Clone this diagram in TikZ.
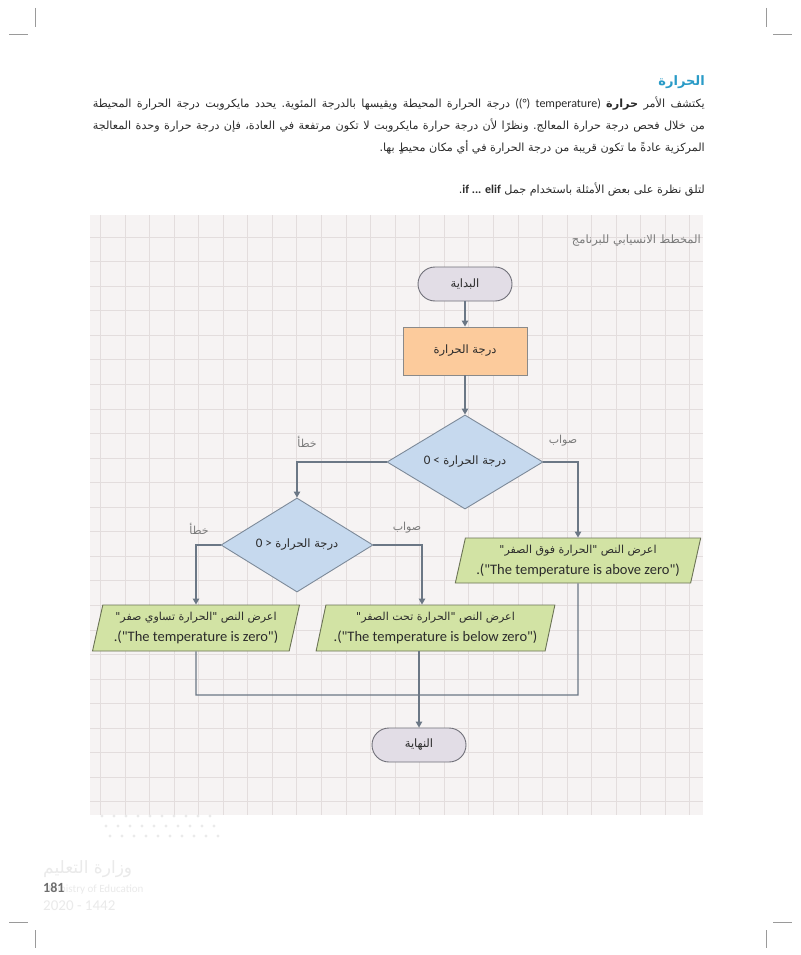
\documentclass[tikz,border=0pt]{standalone}
\usepackage{fontspec}
\setmainfont{Carlito}
\newfontfamily\ar[Script=Arabic]{DejaVu Sans}
\newfontfamily\lat{Carlito}
\TeXXeTstate=1
\usetikzlibrary{shapes.geometric,arrows.meta}
\definecolor{titleblue}{HTML}{2A9BC7}
\definecolor{bodytext}{HTML}{2B2B2B}
\definecolor{panelbg}{HTML}{F6F3F3}
\definecolor{gridline}{HTML}{E3DDDD}
\definecolor{termfill}{HTML}{E2DDE6}
\definecolor{termdraw}{HTML}{6F6F78}
\definecolor{procfill}{HTML}{FCCB9C}
\definecolor{procdraw}{HTML}{8A8A8A}
\definecolor{decfill}{HTML}{C6D9EE}
\definecolor{decdraw}{HTML}{7D8A99}
\definecolor{parafill}{HTML}{D2E3A4}
\definecolor{paradraw}{HTML}{6B7355}
\definecolor{connc}{HTML}{6B7785}
\definecolor{labelgray}{HTML}{7A7A7A}
\definecolor{cropgray}{HTML}{9A9A9A}
\definecolor{wmark}{HTML}{EAEAEA}
\definecolor{pagenum}{HTML}{6E6E6E}
\newcommand\jline[1]{\hbox to 612pt{\frenchspacing\spaceskip=0.25em plus 1fil minus 0.1em\relax\beginR #1\endR}}
\begin{document}
\begin{tikzpicture}[x=1pt,y=-1pt,
  term/.style={draw=termdraw, fill=termfill, line width=0.9pt, rounded corners=17pt,
    minimum width=94pt, minimum height=34pt, inner sep=0pt,
    font=\ar\fontsize{11.5}{13}\selectfont, text=bodytext},
  procbox/.style={draw=procdraw, fill=procfill, line width=0.9pt,
    minimum width=124pt, minimum height=48pt, inner sep=0pt,
    font=\ar\fontsize{11.5}{13}\selectfont, text=bodytext},
  decision/.style={diamond, draw=decdraw, fill=decfill, line width=0.9pt,
    inner sep=0pt, font=\ar\fontsize{11.5}{13}\selectfont, text=bodytext},
  para/.style={trapezium, trapezium left angle=74, trapezium right angle=106,
    trapezium stretches=true, draw=paradraw, fill=parafill, line width=0.9pt,
    inner sep=0pt, align=center, font=\lat\fontsize{14.5}{21}\selectfont, text=bodytext},
  conn/.style={draw=connc, line width=1.1pt},
  arr/.style={conn, -{Triangle[length=6pt,width=6.5pt]}},
  lbl/.style={font=\ar\fontsize{11}{12}\selectfont, text=labelgray, inner sep=0pt},
  crop/.style={draw=cropgray, line width=0.9pt},
  parafont/.style={font=\ar\fontsize{11.2}{13}\selectfont, text=bodytext, inner sep=0pt},
]
\useasboundingbox (0,0) rectangle (800,955);
\fill[white] (0,0) rectangle (800,955);

% crop marks
\draw[crop] (35,8) -- (35,27);
\draw[crop] (9,34) -- (28,34);
\draw[crop] (766,8) -- (766,27);
\draw[crop] (773,34) -- (792,34);
\draw[crop] (9,922) -- (28,922);
\draw[crop] (35,930) -- (35,948);
\draw[crop] (773,922) -- (792,922);
\draw[crop] (766,930) -- (766,948);

% title and paragraph
\node[font=\ar\bfseries\fontsize{13}{14}\selectfont, text=titleblue, anchor=base east, inner sep=0pt]
  (title) at (705,86) {\beginR الحرارة\endR};
\node[parafont, anchor=base east] (l1) at (705,108)
  {\jline{يكتشف الأمر {\bfseries حرارة} \beginL{\lat\fontsize{12}{13}\selectfont ((°) temperature)}\endL{} درجة الحرارة المحيطة ويقيسها بالدرجة المئوية. يحدد مايكروبت درجة الحرارة المحيطة}};
\node[parafont, anchor=base east] (l2) at (705,130)
  {\jline{من خلال فحص درجة حرارة المعالج. ونظرًا لأن درجة حرارة مايكروبت لا تكون مرتفعة في العادة، فإن درجة حرارة وحدة المعالجة}};
\node[parafont, anchor=base east] (l3) at (705,151)
  {\beginR المركزية عادةً ما تكون قريبة من درجة الحرارة في أي مكان محيطٍ بها.\endR};
\node[parafont, anchor=base east] (l4) at (705,193)
  {\beginR لتلق نظرة على بعض الأمثلة باستخدام جمل \beginL{\lat\bfseries\fontsize{12}{13}\selectfont if ... elif}\endL.\endR};

% panel with grid
\fill[panelbg] (90,215) rectangle (703,815);
\foreach \i in {0,...,24} \draw[gridline, line width=0.8pt] (100.4+\i*24.56,215) -- (100.4+\i*24.56,815);
\foreach \j in {0,...,23} \draw[gridline, line width=0.8pt] (90,237+\j*24.56) -- (703,237+\j*24.56);

% watermark (faint)
\foreach \r/\yy in {0/816,1/826,2/836} {
  \foreach \k in {0,...,9} \fill[wmark] (102+\k*12+\r*4,\yy) circle (1.6pt);
}
\node[font=\ar\fontsize{17}{18}\selectfont, text=wmark, anchor=base west, inner sep=0pt] (wm1) at (43,873) {\beginR وزارة التعليم\endR};
\node[font=\lat\fontsize{11}{12}\selectfont, text=wmark, anchor=base west, inner sep=0pt] (wm2) at (48,892) {Ministry of Education};
\node[font=\lat\fontsize{15}{16}\selectfont, text=wmark, anchor=base west, inner sep=0pt] (wm3) at (43,910) {2020 - 1442};
\node[font=\lat\bfseries\fontsize{14}{15}\selectfont, text=pagenum, anchor=base west, inner sep=0pt] (pn) at (43,892) {181};

\node[lbl, anchor=base east, font=\ar\fontsize{11.5}{12}\selectfont] (ptitle) at (701,243) {\beginR المخطط الانسيابي للبرنامج\endR};

% flowchart
\node[term] (start) at (465,284) {\beginR البداية\endR};
\node[procbox] (temp) at (465,351) {\beginR درجة الحرارة\endR};
\node[decision, minimum width=156pt, minimum height=94pt] (d1) at (465,462)
  {{\lat\fontsize{13}{13}\selectfont 0 <} \beginR درجة الحرارة\endR};
\node[decision, minimum width=152pt, minimum height=90pt] (d2) at (297,545)
  {{\lat\fontsize{13}{13}\selectfont 0 >} \beginR درجة الحرارة\endR};
\node[para, minimum width=246pt, minimum height=45pt] (p1) at (578,560.5)
  {{\ar\fontsize{11}{21}\selectfont\beginR اعرض النص "الحرارة فوق الصفر"\endR}\\.("The temperature is above zero")};
\node[para, minimum width=207pt, minimum height=46pt] (p2) at (196,628)
  {{\ar\fontsize{11}{21}\selectfont\beginR اعرض النص "الحرارة تساوي صفر"\endR}\\.("The temperature is zero")};
\node[para, minimum width=239pt, minimum height=46pt] (p3) at (435.5,628)
  {{\ar\fontsize{11}{21}\selectfont\beginR اعرض النص "الحرارة تحت الصفر"\endR}\\.("The temperature is below zero")};
\node[term] (end) at (419,745) {\beginR النهاية\endR};
\coordinate (mj) at (578,695);

\node[lbl] (f1) at (307,442) {\beginR خطأ\endR};
\node[lbl] (t1) at (563,441) {\beginR صواب\endR};
\node[lbl] (f2) at (199,529) {\beginR خطأ\endR};
\node[lbl] (t2) at (407,528) {\beginR صواب\endR};

\draw[arr] (start) -- (temp);
\draw[arr] (temp) -- (d1);
\draw[arr] (d1.west) -| (d2.north);
\draw[arr] (d1.east) -| (p1.north);
\draw[arr] (d2.west) -| (p2.north);
\draw[arr] (d2.east) -| ([xshift=-13.5pt]p3.north);
\draw[conn] (p2.south) |- (mj) -- (p1.south);
\draw[arr] (p3.south -| end.north) -- (end.north);
\end{tikzpicture}
\end{document}
